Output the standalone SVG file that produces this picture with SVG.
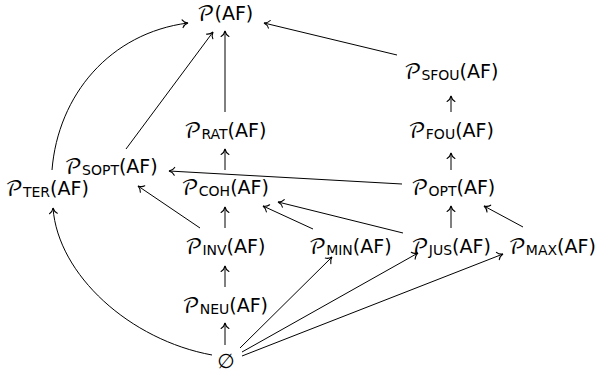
<svg xmlns="http://www.w3.org/2000/svg" width="598" height="374" viewBox="0 0 598 374">
<style>
text{font-family:"DejaVu Sans","Liberation Sans",sans-serif;font-size:19px;fill:#000;text-anchor:middle}
.p{font-family:"DejaVu Math TeX Gyre","Noto Sans Math","DejaVu Serif","DejaVu Sans",serif;font-size:21px}
.s{font-size:14px}
.e{fill:none;stroke:#000;stroke-width:1;marker-end:url(#a)}
</style>
<defs>
<marker id="a" markerUnits="userSpaceOnUse" markerWidth="14" markerHeight="14" viewBox="-7 -7 14 14" refX="0" refY="0" orient="auto" overflow="visible">
<path d="M-5.5,-3.9 C-4.4,-1.8 -2,-0.5 0,0 C-2,0.5 -4.4,1.8 -5.5,3.9" fill="none" stroke="#000" stroke-width="1.1" stroke-linecap="round"/>
</marker>
</defs>
<g id="connectors">
<path class="e" d="M52,170 C58,95 110,33 188,23"/>
<path class="e" d="M126,149 L213,32"/>
<path class="e" d="M225,112 L225,31"/>
<path class="e" d="M397,55 L264,23"/>
<path class="e" d="M451,112 L451,96"/>
<path class="e" d="M451,170 L451,153"/>
<path class="e" d="M225,170 L225,149"/>
<path class="e" d="M402,184 L169,171"/>
<path class="e" d="M200,228 L138,186"/>
<path class="e" d="M225,228 L225,207"/>
<path class="e" d="M313,229 L263,206"/>
<path class="e" d="M403,233 L278,202"/>
<path class="e" d="M451,228 L451,206"/>
<path class="e" d="M523,227 L484,206"/>
<path class="e" d="M225,287 L225,266"/>
<path class="e" d="M225,345 L225,323"/>
<path class="e" d="M212,355 C130,340 58,275 53,208"/>
<path class="e" d="M240,348 L332,257"/>
<path class="e" d="M242,352 L418,253"/>
<path class="e" d="M242,356 L503,254"/>
</g>
<g id="n-top"><text x="225" y="20"><tspan class="p">𝒫</tspan>(AF)</text></g>
<g id="n-sfou"><text x="451" y="78"><tspan class="p">𝒫</tspan><tspan class="s" dy="2">SFOU</tspan><tspan dy="-2">(AF)</tspan></text></g>
<g id="n-rat"><text x="225" y="137"><tspan class="p">𝒫</tspan><tspan class="s" dy="2">RAT</tspan><tspan dy="-2">(AF)</tspan></text></g>
<g id="n-fou"><text x="451" y="137"><tspan class="p">𝒫</tspan><tspan class="s" dy="2">FOU</tspan><tspan dy="-2">(AF)</tspan></text></g>
<g id="n-sopt"><text x="111" y="173"><tspan class="p">𝒫</tspan><tspan class="s" dy="2">SOPT</tspan><tspan dy="-2">(AF)</tspan></text></g>
<g id="n-ter"><text x="47" y="195"><tspan class="p">𝒫</tspan><tspan class="s" dy="2">TER</tspan><tspan dy="-2">(AF)</tspan></text></g>
<g id="n-coh"><text x="225" y="194"><tspan class="p">𝒫</tspan><tspan class="s" dy="2">COH</tspan><tspan dy="-2">(AF)</tspan></text></g>
<g id="n-opt"><text x="453" y="194"><tspan class="p">𝒫</tspan><tspan class="s" dy="2">OPT</tspan><tspan dy="-2">(AF)</tspan></text></g>
<g id="n-inv"><text x="225" y="253"><tspan class="p">𝒫</tspan><tspan class="s" dy="2">INV</tspan><tspan dy="-2">(AF)</tspan></text></g>
<g id="n-min"><text x="350" y="253"><tspan class="p">𝒫</tspan><tspan class="s" dy="2">MIN</tspan><tspan dy="-2">(AF)</tspan></text></g>
<g id="n-jus"><text x="451" y="253"><tspan class="p">𝒫</tspan><tspan class="s" dy="2">JUS</tspan><tspan dy="-2">(AF)</tspan></text></g>
<g id="n-max"><text x="552" y="253"><tspan class="p">𝒫</tspan><tspan class="s" dy="2">MAX</tspan><tspan dy="-2">(AF)</tspan></text></g>
<g id="n-neu"><text x="225" y="312"><tspan class="p">𝒫</tspan><tspan class="s" dy="2">NEU</tspan><tspan dy="-2">(AF)</tspan></text></g>
<g id="n-empty"><text x="226" y="368" style="font-size:20px">∅</text></g>
</svg>
